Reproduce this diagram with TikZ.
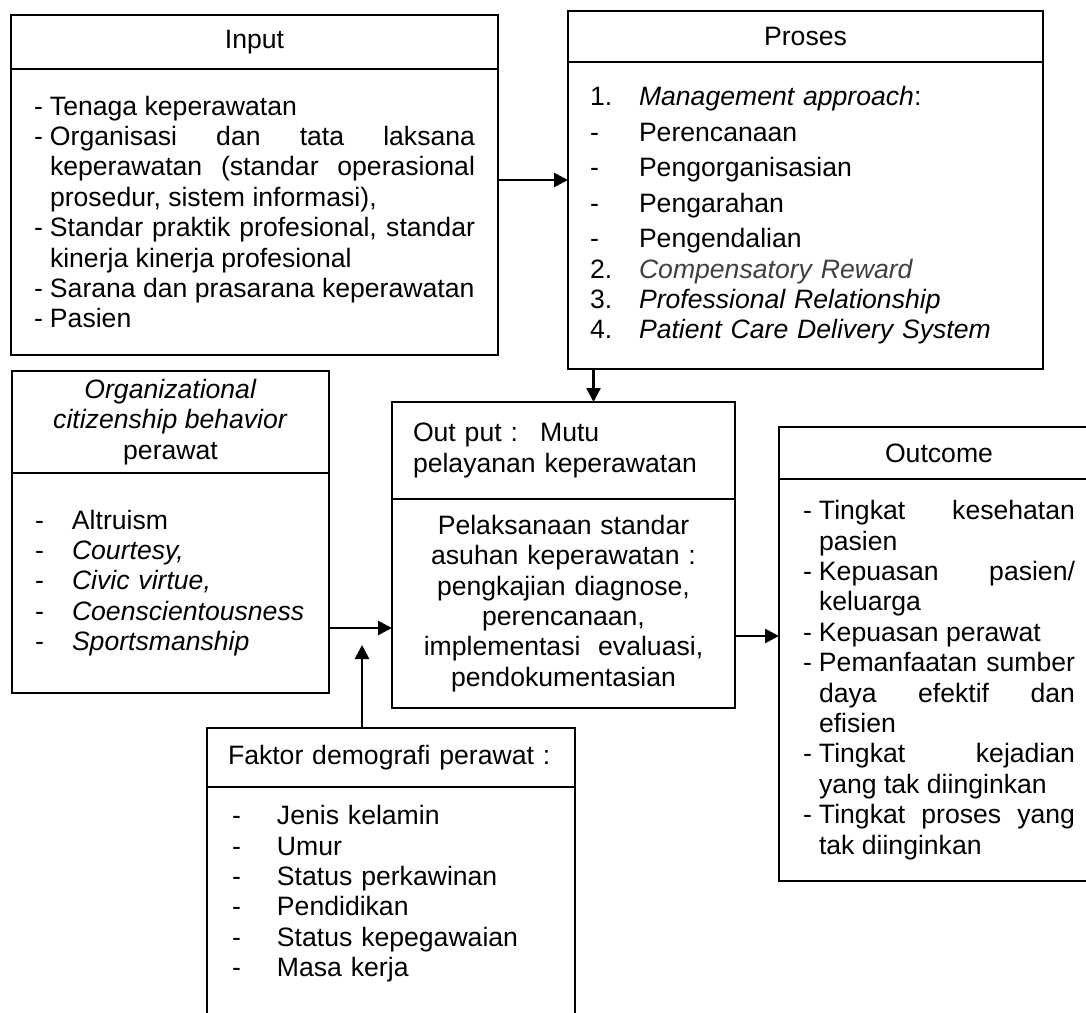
\documentclass[tikz,border=0pt]{standalone}
\usepackage{fontspec}
\setmainfont{Liberation Sans}
\usepackage{xcolor}
\usepackage{tikz}
\usetikzlibrary{arrows.meta,positioning}
\definecolor{compgray}{RGB}{64,64,64}
\newcommand{\lst}[2]{\makebox[#1][l]{#2}}
\newcommand{\jitem}[1]{\hangindent=8pt\hangafter=1 \makebox[8pt][l]{-}#1\par}
\hyphenpenalty=10000
\tolerance=10000
\hbadness=10000

\begin{document}
\begin{tikzpicture}[
    x=0.5pt, y=-0.5pt,
    font=\fontsize{13.3}{15.2}\selectfont,
    headbox/.style={rectangle, draw=black, line width=1.3pt, outer sep=0pt, inner sep=0pt, align=center},
    bodybox/.style={rectangle, draw=black, line width=1.3pt, outer sep=0pt, inner sep=0pt},
    arrow/.style={-{Triangle[length=7pt,width=7pt]}, line width=1.3pt}
]
\path[use as bounding box] (0,0) rectangle (1086,1012);
\clip (0,0) rectangle (1086,1012);

% Input
\node[headbox, anchor=north west, minimum width=243.5pt, minimum height=27pt] (inhead) at (11,15) {Input};
\node[bodybox, below=0pt of inhead, minimum width=243.5pt, minimum height=143pt, text width=220.5pt, align=justify] (inbody) {%
\jitem{Tenaga keperawatan}
\jitem{Organisasi dan tata laksana keperawatan (standar operasional prosedur, sistem informasi),}
\jitem{Standar praktik profesional, standar kinerja kinerja profesional}
\jitem{Sarana dan prasarana keperawatan}
\jitem{Pasien}};

% Proses
\node[headbox, anchor=north west, minimum width=237.5pt, minimum height=25.5pt] (prhead) at (568,11) {Proses};
\node[bodybox, below=0pt of prhead, minimum width=237.5pt, minimum height=153.5pt, text width=215.5pt, align=left] (prbody) {%
\lst{24.5pt}{1.}\textit{Management approach}:\\[2.55pt]
\lst{24.5pt}{-}Perencanaan\\[2.55pt]
\lst{24.5pt}{-}Pengorganisasian\\[2.55pt]
\lst{24.5pt}{-}Pengarahan\\[2.55pt]
\lst{24.5pt}{-}Pengendalian\\
\lst{24.5pt}{2.}{\color{compgray}\textit{Compensatory Reward}}\\
\lst{24.5pt}{3.}\textit{Professional Relationship}\\
\lst{24.5pt}{4.}\textit{Patient Care Delivery System}};

% Organizational citizenship behavior
\node[headbox, anchor=north west, minimum width=158.5pt, minimum height=51pt] (citzhead) at (12,371) {\textit{Organizational}\\\textit{citizenship behavior}\\perawat};
\node[bodybox, below=0pt of citzhead, minimum width=158.5pt, minimum height=110pt, text width=135.5pt, align=left] (citzbody) {%
\lst{18.5pt}{-}Altruism\\
\lst{18.5pt}{-}\textit{Courtesy,}\\
\lst{18.5pt}{-}\textit{Civic virtue,}\\
\lst{18.5pt}{-}\textit{Coenscientousness}\\
\lst{18.5pt}{-}\textit{Sportsmanship}};

% Output
\node[headbox, anchor=north west, minimum width=171.5pt, minimum height=48.5pt, text width=150.5pt, align=left] (outhead) at (392,402) {Out put :~ Mutu\\pelayanan keperawatan};
\node[bodybox, below=0pt of outhead, minimum width=171.5pt, minimum height=104.5pt, text width=150.5pt, align=center] (outbody) {%
Pelaksanaan standar\\asuhan keperawatan :\\pengkajian diagnose,\\perencanaan,\\implementasi~ evaluasi,\\pendokumentasian};

% Outcome
\node[headbox, anchor=north west, minimum width=160pt, minimum height=26pt] (ochead) at (779,427) {Outcome};
\node[bodybox, below=0pt of ochead, minimum width=160pt, minimum height=201pt, text width=136pt, align=justify] (ocbody) {%
\jitem{Tingkat kesehatan pasien}
\jitem{Kepuasan pasien/ keluarga}
\jitem{Kepuasan perawat}
\jitem{Pemanfaatan sumber daya efektif dan efisien}
\jitem{Tingkat kejadian\linebreak yang tak diinginkan}
\jitem{Tingkat proses yang tak diinginkan}};

% Faktor demografi
\node[headbox, anchor=north west, minimum width=184pt, minimum height=29.5pt, text width=163pt, align=left] (demhead) at (207,728) {Faktor demografi perawat :};
\node[bodybox, below=0pt of demhead, minimum width=184pt, inner ysep=9.25pt, text width=159pt, align=left] (dembody) {%
\lst{22.5pt}{-}Jenis kelamin\\
\lst{22.5pt}{-}Umur\\
\lst{22.5pt}{-}Status perkawinan\\
\lst{22.5pt}{-}Pendidikan\\
\lst{22.5pt}{-}Status kepegawaian\\
\lst{22.5pt}{-}Masa kerja\rule[-62pt]{0pt}{0pt}};

% Connectors
\coordinate (demtip) at (362,645);
\draw[arrow] ([yshift=16pt]inbody.east) -- ([yshift=16pt]inbody.east -| prbody.west);
\draw[arrow] ([xshift=15pt]outhead.north |- prbody.south) -- ([xshift=15pt]outhead.north);
\draw[arrow] ([yshift=-22.5pt]citzbody.east) -- ([yshift=-22.5pt]citzbody.east -| outbody.west);
\draw[arrow] (demhead.north -| demtip) -- (demtip);
\draw[arrow] ([yshift=-16.25pt]outbody.east) -- ([yshift=-16.25pt]outbody.east -| ocbody.west);

\end{tikzpicture}
\end{document}
